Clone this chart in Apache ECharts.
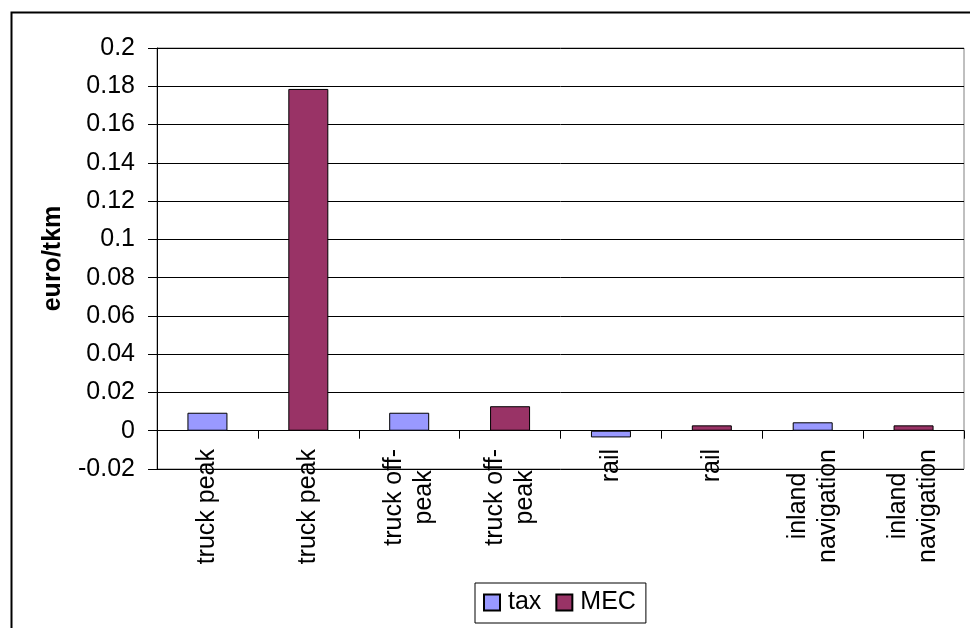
<!DOCTYPE html>
<html>
<head>
<meta charset="utf-8">
<script src="https://cdn.jsdelivr.net/npm/echarts@6/dist/echarts.min.js"></script>
<style>
  html, body { margin: 0; padding: 0; background: #ffffff; }
  #chart { width: 970px; height: 628px; }
</style>
</head>
<body>
<div id="chart"></div>
<script>
  // categories along the x axis (one bar per category)
  const categories = ['truck peak', 'truck peak', 'truck off-\npeak', 'truck off-\npeak',
    'rail', 'rail', 'inland\nnavigation', 'inland\nnavigation']
  // euro/tkm
  const taxValues = [0.0094, null, 0.0094, null, -0.0035, null, 0.0044, null]
  const mecValues = [null, 0.1786, null, 0.0128, null, 0.0028, null, 0.0028]
  const yTicks = { min: -0.02, max: 0.2, step: 0.02 }

  const font = 'Liberation Sans, Arial, sans-serif'
  const fs = 25
  const chart = echarts.init(document.getElementById('chart'))

  chart.setOption({
    animation: false,
    textStyle: { fontFamily: font },
    grid: {
      left: 157,
      right: 6,
      top: 48,
      bottom: 159,
      show: true,
      borderColor: '#808080',
      borderWidth: 1
    },
    graphic: [{
      type: 'rect',
      left: 9,
      top: 10,
      shape: { width: 990, height: 660 },
      style: { fill: 'none', stroke: '#000', lineWidth: 2 },
      silent: true
    }],
    legend: {
      left: 475,
      top: 583,
      padding: [7, 10, 8, 8],
      itemGap: 14,
      itemWidth: 16,
      itemHeight: 16,
      icon: 'rect',
      borderColor: '#000',
      borderWidth: 1,
      textStyle: { fontSize: fs, color: '#000', fontFamily: font, padding: [0, 0, 0, 3] },
      data: ['tax', 'MEC']
    },
    xAxis: {
      type: 'category',
      data: categories,
      axisLine: { onZero: true, lineStyle: { color: '#000', width: 1 } },
      axisTick: { show: true, length: 8, lineStyle: { color: '#000' } },
      axisLabel: {
        interval: 0,
        rotate: 90,
        // labels sit just below the zero line, above the plot bottom
        margin: -20,
        color: '#000',
        fontSize: fs,
        lineHeight: 30,
        fontFamily: font,
        formatter: v => v.split('\n').map(s => '{c|' + s + '}').join('\n'),
        rich: { c: { align: 'center', fontSize: fs, lineHeight: 30, fontFamily: font, color: '#000' } }
      }
    },
    yAxis: {
      type: 'value',
      min: yTicks.min,
      max: yTicks.max,
      interval: yTicks.step,
      name: 'euro/tkm',
      nameLocation: 'middle',
      nameGap: 91,
      nameRotate: 90,
      nameTextStyle: { fontSize: fs, fontWeight: 'bold', color: '#000', fontFamily: font },
      axisLine: { show: true, lineStyle: { color: '#000' } },
      axisTick: { show: true, length: 9, lineStyle: { color: '#000' } },
      axisLabel: {
        margin: 22,
        fontSize: fs,
        color: '#000',
        fontFamily: font,
        formatter: v => String(+v.toFixed(2))
      },
      splitLine: { show: true, lineStyle: { color: '#000', width: 1 } }
    },
    series: [
      {
        name: 'tax',
        type: 'bar',
        data: taxValues,
        barWidth: 40,
        barGap: '-100%',
        itemStyle: { color: '#9999ff', borderColor: '#000', borderWidth: 1 }
      },
      {
        name: 'MEC',
        type: 'bar',
        data: mecValues,
        barWidth: 40,
        barGap: '-100%',
        itemStyle: { color: '#993366', borderColor: '#000', borderWidth: 1 }
      }
    ]
  })
</script>
</body>
</html>
